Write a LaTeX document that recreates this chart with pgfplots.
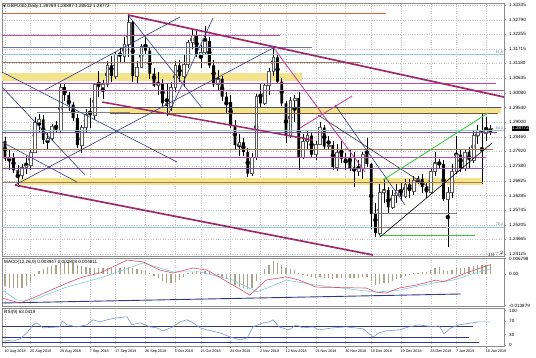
\documentclass[border=0pt]{standalone}
\usepackage{pgfplots}
\pgfplotsset{compat=1.18}
\usepackage{pgfplotstable}
\usepackage{fontspec}
\setmainfont{Liberation Sans}
\newfontfamily\dejavu{DejaVu Sans}

\definecolor{gridc}{HTML}{C4C4C4}
\definecolor{framec}{HTML}{8C8C8C}
\definecolor{mag}{HTML}{A0286C}
\definecolor{pinkl}{HTML}{C648A6}
\definecolor{navy}{HTML}{2E3A82}
\definecolor{slate}{HTML}{6C6EAE}
\definecolor{tealf}{HTML}{8FC9CC}
\definecolor{brownl}{HTML}{A8785E}
\definecolor{orangel}{HTML}{E4643A}
\definecolor{band}{HTML}{F3E48C}
\definecolor{greenl}{HTML}{3CC83C}
\definecolor{bullc}{HTML}{5A5A5A}
\definecolor{histc}{HTML}{ABA28A}
\definecolor{macdred}{HTML}{D85068}
\definecolor{macdcyan}{HTML}{7FCCDA}
\definecolor{rsic}{HTML}{7A9AD0}
\definecolor{purplel}{HTML}{8A4AA8}
\definecolor{darkslate}{HTML}{505070}

\pgfplotstableread{
i o h l c
0 1.2830 1.2845 1.2755 1.2765
1 1.2765 1.2800 1.2724 1.2770
2 1.2770 1.2785 1.2712 1.2722
3 1.2722 1.2740 1.2662 1.2705
4 1.2705 1.2745 1.2690 1.2735
5 1.2735 1.2775 1.2710 1.2740
6 1.2740 1.2800 1.2725 1.2790
7 1.2790 1.2918 1.2785 1.2900
8 1.2900 1.2930 1.2860 1.2910
9 1.2910 1.2925 1.2820 1.2835
10 1.2835 1.2860 1.2800 1.2840
11 1.2840 1.2895 1.2830 1.2885
12 1.2885 1.2905 1.2860 1.2870
13 1.2870 1.3043 1.2860 1.3030
14 1.3030 1.3045 1.2980 1.3000
15 1.3000 1.3010 1.2940 1.2965
16 1.2965 1.2975 1.2905 1.2915
17 1.2915 1.2930 1.2805 1.2815
18 1.2815 1.2890 1.2785 1.2880
19 1.2880 1.2950 1.2860 1.2930
20 1.2930 1.2990 1.2880 1.2925
21 1.2925 1.3045 1.2910 1.3040
22 1.3040 1.3090 1.2995 1.3030
23 1.3030 1.3055 1.2985 1.3040
24 1.3040 1.3125 1.3030 1.3110
25 1.3110 1.3145 1.3050 1.3070
26 1.3070 1.3160 1.3060 1.3150
27 1.3150 1.3180 1.3120 1.3145
28 1.3145 1.3215 1.3120 1.3190
29 1.3190 1.3298 1.3140 1.3270
30 1.3270 1.3275 1.3050 1.3070
31 1.3070 1.3125 1.3045 1.3105
32 1.3105 1.3190 1.3100 1.3180
33 1.3180 1.3215 1.3150 1.3165
34 1.3165 1.3175 1.3060 1.3080
35 1.3080 1.3100 1.3030 1.3035
36 1.3035 1.3085 1.3000 1.3045
37 1.3045 1.3060 1.2960 1.2970
38 1.2970 1.3040 1.2922 1.2960
39 1.2960 1.3050 1.2940 1.3030
40 1.3030 1.3125 1.3010 1.3110
41 1.3110 1.3130 1.3050 1.3070
42 1.3070 1.3150 1.3030 1.3115
43 1.3115 1.3205 1.3100 1.3195
44 1.3195 1.3240 1.3170 1.3220
45 1.3220 1.3240 1.3140 1.3150
46 1.3150 1.3185 1.3100 1.3160
47 1.3160 1.3257 1.3150 1.3200
48 1.3200 1.3215 1.3100 1.3110
49 1.3110 1.3130 1.3030 1.3040
50 1.3040 1.3095 1.3020 1.3060
51 1.3060 1.3070 1.2980 1.2995
52 1.2995 1.3010 1.2930 1.2975
53 1.2975 1.3000 1.2880 1.2890
54 1.2890 1.2910 1.2800 1.2815
55 1.2815 1.2855 1.2775 1.2825
56 1.2825 1.2840 1.2775 1.2790
57 1.2790 1.2805 1.2696 1.2710
58 1.2710 1.2785 1.2700 1.2770
59 1.2770 1.3005 1.2760 1.2995
60 1.2995 1.3040 1.2955 1.2970
61 1.2970 1.3045 1.2965 1.3035
62 1.3035 1.3100 1.3000 1.3090
63 1.3090 1.3175 1.3070 1.3140
64 1.3140 1.3150 1.3040 1.3050
65 1.3050 1.3065 1.2960 1.2970
66 1.2970 1.2980 1.2825 1.2850
67 1.2850 1.2995 1.2840 1.2980
68 1.2980 1.3000 1.2900 1.2990
69 1.2990 1.3010 1.2723 1.2770
70 1.2770 1.2855 1.2765 1.2830
71 1.2830 1.2870 1.2800 1.2850
72 1.2850 1.2865 1.2770 1.2780
73 1.2780 1.2830 1.2760 1.2820
74 1.2820 1.2900 1.2815 1.2880
75 1.2880 1.2890 1.2800 1.2810
76 1.2810 1.2850 1.2800 1.2815
77 1.2815 1.2830 1.2725 1.2735
78 1.2735 1.2820 1.2720 1.2790
79 1.2790 1.2830 1.2750 1.2765
80 1.2765 1.2785 1.2725 1.2755
81 1.2755 1.2800 1.2720 1.2730
82 1.2730 1.2790 1.2660 1.2720
83 1.2720 1.2760 1.2700 1.2730
84 1.2730 1.2790 1.2690 1.2780
85 1.2780 1.2840 1.2735 1.2745
86 1.2745 1.2750 1.2505 1.2560
87 1.2560 1.2600 1.2477 1.2490
88 1.2490 1.2670 1.2480 1.2640
89 1.2640 1.2690 1.2600 1.2650
90 1.2650 1.2660 1.2560 1.2585
91 1.2585 1.2650 1.2580 1.2630
92 1.2630 1.2670 1.2600 1.2650
93 1.2650 1.2680 1.2610 1.2625
94 1.2625 1.2690 1.2620 1.2670
95 1.2670 1.2690 1.2620 1.2645
96 1.2645 1.2700 1.2630 1.2685
97 1.2685 1.2700 1.2670 1.2690
98 1.2690 1.2710 1.2640 1.2660
99 1.2660 1.2680 1.2620 1.2640
100 1.2640 1.2730 1.2635 1.2720
101 1.2720 1.2790 1.2700 1.2750
102 1.2750 1.2765 1.2730 1.2745
103 1.2745 1.2760 1.2610 1.2615
104 1.2615 1.2660 1.2438 1.2640
105 1.2640 1.2745 1.2620 1.2720
106 1.2720 1.2850 1.2710 1.2780
107 1.2780 1.2800 1.2715 1.2730
108 1.2730 1.2800 1.2720 1.2790
109 1.2790 1.2810 1.2730 1.2760
110 1.2760 1.2870 1.2750 1.2850
111 1.2850 1.2890 1.2820 1.2870
112 1.2870 1.2930 1.2670 1.2860
113 1.2860 1.2920 1.2830 1.2869
114 1.28769 1.28897 1.28512 1.28772
}\candles

\pgfplotstableread{
i v
0 -0.0055
1 -0.0060
2 -0.0063
3 -0.0063
4 -0.0060
5 -0.0055
6 -0.0040
7 -0.0010
8 0.0012
9 0.0022
10 0.0030
11 0.0036
12 0.0040
13 0.0048
14 0.0052
15 0.0052
16 0.0048
17 0.0040
18 0.0035
19 0.0030
20 0.0028
21 0.0026
22 0.0025
23 0.0024
24 0.0026
25 0.0026
26 0.0028
27 0.0028
28 0.0030
29 0.0032
30 0.0026
31 0.0022
32 0.0018
33 0.0014
34 0.0006
35 -0.0008
36 -0.0018
37 -0.0030
38 -0.0040
39 -0.0042
40 -0.0035
41 -0.0025
42 -0.0015
43 0.0002
44 0.0010
45 0.0012
46 0.0010
47 0.0012
48 0.0008
49 0.0002
50 -0.0004
51 -0.0012
52 -0.0024
53 -0.0036
54 -0.0050
55 -0.0058
56 -0.0064
57 -0.0068
58 -0.0060
59 -0.0030
60 -0.0005
61 0.0020
62 0.0040
63 0.0055
64 0.0050
65 0.0038
66 0.0025
67 0.0022
68 0.0018
69 0.0004
70 -0.0004
71 -0.0008
72 -0.0014
73 -0.0016
74 -0.0012
75 -0.0016
76 -0.0018
77 -0.0022
78 -0.0020
79 -0.0020
80 -0.0020
81 -0.0020
82 -0.0020
83 -0.0018
84 -0.0012
85 -0.0012
86 -0.0030
87 -0.0048
88 -0.0045
89 -0.0040
90 -0.0038
91 -0.0030
92 -0.0022
93 -0.0016
94 -0.0008
95 -0.0004
96 0.0002
97 0.0006
98 0.0008
99 0.0010
100 0.0018
101 0.0026
102 0.0030
103 0.0018
104 0.0012
105 0.0016
106 0.0024
107 0.0024
108 0.0028
109 0.0030
110 0.0034
111 0.0038
112 0.0040
113 0.0040
114 0.0042
}\macdhist

\newcommand{\lbl}{\fontsize{4.6}{5}\selectfont}
\newcommand{\dlbl}{\fontsize{3.7}{4}\selectfont}

\pgfplotsset{
  panel/.style={scale only axis, width=502pt, xmin=-0.7, xmax=117.2,
    enlargelimits=false, anchor=north west,
    axis line style={draw=framec, line width=0.9pt},
    tick style={draw=framec, line width=0.5pt},
    major tick length=2pt, tick align=outside,
    xtick={0,6,13,20,26,33,40,46,53,60,66,73,80,86,93,100,106,113},
    grid style={draw=gridc, dotted, line width=0.45pt},
    xmajorgrids,
    ticklabel style={font=\lbl, text=black},
    yticklabel pos=right, ytick pos=right,
    yticklabel style={anchor=west, inner sep=0pt, xshift=3pt}},
  overlay/.style={scale only axis, width=502pt, xmin=-0.7, xmax=117.2,
    enlargelimits=false, anchor=north west, hide axis},
  pricey/.style={height=253pt, ymin=1.24051, ymax=1.33409}
}

\begin{document}
\begin{tikzpicture}
\fill[white] (0,0) rectangle (536pt,-358pt);

% ---------- main panel: grid, bands, wicks ----------
\begin{axis}[panel, pricey, at={(2pt,-3pt)},
  xticklabels={}, xtick style={draw=none},
  ymajorgrids,
  ytick={1.33335,1.32790,1.32255,1.31715,1.31180,1.30635,1.30080,1.29540,1.29000,1.28460,1.27920,1.27380,1.26825,1.26285,1.25745,1.25205,1.24665,1.24125},
  yticklabels={1.33335,1.32790,1.32255,1.31715,1.31180,1.30635,1.30080,1.29540,1.29000,1.28460,1.27920,1.27380,1.26825,1.26285,1.25745,1.25205,1.24665,1.24125},
  extra y ticks={1.28772}, extra y tick labels={1.28772},
  extra y tick style={grid=none, yticklabel style={fill=black, text=white, inner sep=0.6pt, xshift=2.4pt}}
]
\addplot[fill=band, draw=none, forget plot] coordinates {(-0.7,1.30542) (69.77,1.30542) (69.77,1.30820) (-0.7,1.30820)};
\addplot[fill=band, draw=none, forget plot] coordinates {(24.67,1.29340) (116.51,1.29340) (116.51,1.29544) (24.67,1.29544)};
\addplot[fill=band, draw=none, forget plot] coordinates {(3.52,1.26659) (112.29,1.26659) (112.29,1.26918) (3.52,1.26918)};
\addplot[black, only marks, mark=none, forget plot,
  error bars/.cd, y dir=both, y explicit, error mark=none,
  error bar style={draw=black, line width=0.5pt}]
  table[x=i, y expr={(\thisrow{h}+\thisrow{l})/2}, y error expr={(\thisrow{h}-\thisrow{l})/2}] {\candles};
\end{axis}

% ---------- candle bodies ----------
\begin{axis}[overlay, pricey, at={(2pt,-3pt)}, ybar stacked, bar width=2.8pt]
\addplot[draw=none, fill=none] table[x=i, y expr={min(\thisrow{o},\thisrow{c})}] {\candles};
\addplot[draw=bullc, fill=white, line width=0.45pt] table[x=i, y expr={max(\thisrow{c}-\thisrow{o},0)}] {\candles};
\addplot[draw=none, fill=black] table[x=i, y expr={max(\thisrow{o}-\thisrow{c},0)}] {\candles};
\end{axis}

% ---------- objects: horizontal levels and trend lines ----------
\begin{axis}[overlay, pricey, at={(2pt,-3pt)}]
\addplot[orangel, line width=0.8pt] coordinates {(-0.7,1.33021) (89.5,1.33021)};
\addplot[pinkl, line width=0.9pt] coordinates {(-0.7,1.32207) (64.6,1.32207)};
\addplot[slate, line width=0.8pt] coordinates {(-0.7,1.31763) (72.1,1.31763)};
\addplot[tealf, line width=0.6pt] coordinates {(-0.7,1.31523) (117.2,1.31523)};
\addplot[brownl, line width=0.8pt] coordinates {(-0.7,1.31216) (83.4,1.31216)};
\addplot[pinkl, line width=0.9pt] coordinates {(-0.7,1.30450) (115.3,1.30450)};
\addplot[pinkl, line width=0.9pt] coordinates {(-0.7,1.30172) (117.2,1.30172)};
\addplot[darkslate, line width=0.8pt] coordinates {(-0.7,1.29562) (116.5,1.29562)};
\addplot[brownl!70!black, line width=0.6pt] coordinates {(24.67,1.29340) (115.7,1.29340)};
\addplot[gray, line width=0.5pt] coordinates {(7.5,1.29377) (29.4,1.29377)};
\addplot[tealf, line width=0.6pt] coordinates {(-0.7,1.28711) (117.2,1.28711)};
\addplot[purplel, line width=0.8pt] coordinates {(-0.7,1.28638) (115.6,1.28638)};
\addplot[brownl, line width=0.8pt] coordinates {(-0.7,1.27990) (114.6,1.27990)};
\addplot[pinkl, line width=0.9pt] coordinates {(-0.7,1.27713) (113.0,1.27713)};
\addplot[purplel, line width=0.9pt] coordinates {(-0.7,1.27287) (112.5,1.27287)};
\addplot[brownl, line width=0.8pt] coordinates {(-0.7,1.26788) (112.3,1.26788)};
\addplot[gray, line width=0.8pt] coordinates {(86.4,1.25641) (106.2,1.25641)};
\addplot[tealf, line width=0.6pt] coordinates {(-0.7,1.25124) (117.2,1.25124)};
\addplot[gray, line width=0.7pt] coordinates {(86.7,1.25124) (103.6,1.25124)};
\addplot[greenl, line width=0.8pt] coordinates {(87.9,1.24828) (110.4,1.24828)};
% trend lines
\addplot[mag, line width=1.7pt] coordinates {(28.89,1.32965) (117.2,1.29932)};
\addplot[mag, line width=1.5pt] coordinates {(22.79,1.29747) (72.35,1.28342)};
\addplot[mag, line width=1.7pt] coordinates {(2.35,1.26677) (86.45,1.24088)};
\addplot[pinkl, line width=0.9pt] coordinates {(62.96,1.31782) (84.57,1.27158)};
\addplot[pinkl, line width=0.9pt] coordinates {(69.30,1.28785) (81.51,1.29969)};
\addplot[navy, line width=0.6pt] coordinates {(-0.7,1.30857) (40.40,1.27528)};
\addplot[navy, line width=0.6pt] coordinates {(-0.7,1.30302) (18.79,1.27047)};
\addplot[navy, line width=0.6pt] coordinates {(-0.7,1.28268) (16.91,1.26788)};
\addplot[navy, line width=0.6pt] coordinates {(2.35,1.26677) (63.43,1.31782)};
\addplot[navy, line width=0.6pt] coordinates {(9.40,1.30191) (41.11,1.32891)};
\addplot[navy, line width=0.6pt] coordinates {(38.29,1.29266) (48.86,1.32854)};
\addplot[navy, line width=0.6pt] coordinates {(28.89,1.32965) (46.28,1.29525)};
\addplot[black!80, line width=0.6pt] coordinates {(73.53,1.29266) (99.84,1.26566)};
\addplot[navy, line width=0.6pt] coordinates {(77.5,1.29636) (93.96,1.25938)};
\addplot[greenl, line width=0.9pt] coordinates {(88.79,1.26862) (113.46,1.29340)};
\addplot[black, line width=0.6pt] coordinates {(88.09,1.24754) (114.40,1.28231)};
\end{axis}

% ---------- MACD panel ----------
\begin{axis}[panel, at={(2pt,-258pt)}, height=48pt, ymin=-0.0141, ymax=0.0070,
  xticklabels={}, xtick style={draw=none},
  ytick={-0.013879,0,0.006798}, yticklabels={-0.013879,0.00,0.006798}]
\addplot[ycomb, histc, line width=1.3pt, forget plot] table[x=i, y=v] {\macdhist};
\addplot[navy, line width=0.9pt] coordinates {(-0.7,-0.01278) (107.1,-0.00882)};
\addplot[macdcyan, line width=0.6pt] coordinates {(-0.7,-0.0071) (2.82,-0.0115) (6.58,-0.0115) (14.56,-0.0057) (22.32,-0.0018) (32.42,0.0048) (39.46,0.0009) (45.81,0.0009) (53.56,-0.0027) (59.20,-0.0079) (62.25,-0.0057) (66.01,-0.0027) (73.06,-0.0049) (87.15,-0.0080) (92.55,-0.0071) (100.54,-0.0040) (105.24,-0.0027) (112.99,0.0018) (114,0.0022)};
\addplot[macdred, line width=0.6pt] coordinates {(-0.7,-0.0106) (3.52,-0.0128) (6.58,-0.0106) (14.56,-0.0040) (18.32,-0.0013) (22.32,0.0004) (28.66,0.0061) (32.42,0.0053) (36.41,0.0017) (39.46,0.0004) (44.16,0.0026) (47.45,0.0017) (53.56,-0.0049) (57.55,-0.0093) (61.31,-0.0027) (66.01,-0.0013) (69.06,-0.0027) (73.06,-0.0058) (84.80,-0.0062) (87.15,-0.0080) (89.50,-0.0084) (92.55,-0.0062) (96.55,-0.0049) (101.25,-0.0027) (102.89,-0.0035) (108.29,0.0004) (114,0.0041)};
\end{axis}

% ---------- RSI panel ----------
\begin{axis}[panel, at={(2pt,-308pt)}, height=38pt, ymin=-3, ymax=108,
  ytick={0,30,70,100}, yticklabels={0,30,70,100},
  xtick pos=bottom,
  xticklabels={10 Aug 2018,20 Aug 2018,29 Aug 2018,7 Sep 2018,17 Sep 2018,26 Sep 2018,5 Oct 2018,15 Oct 2018,24 Oct 2018,2 Nov 2018,12 Nov 2018,21 Nov 2018,30 Nov 2018,10 Dec 2018,19 Dec 2018,28 Dec 2018,7 Jan 2019,16 Jan 2019},
  xticklabel style={font=\dlbl, anchor=north west, inner sep=0pt, xshift=-0.5pt, yshift=-1.8pt}]
\addplot[navy, line width=0.9pt] coordinates {(-0.7,55.4) (110.0,55.4)};
\addplot[navy, line width=0.9pt] coordinates {(-0.7,23.3) (109.0,23.3)};
\addplot[navy, line width=0.9pt] coordinates {(-0.7,7.2) (111.3,7.2)};
\addplot[rsic, line width=0.6pt] coordinates {(-0.7,14.7) (1.88,11.8) (3.52,17.6) (5.17,35.3) (6.58,58.8) (7.52,64.7) (8.93,50.0) (12.92,52.9) (13.39,70.6) (14.56,58.8) (16.91,52.9) (19.26,58.8) (20.67,73.5) (22.32,67.6) (23.96,73.5) (26.31,79.4) (28.66,82.4) (29.83,58.8) (31.71,64.7) (34.06,52.9) (35.71,50.0) (37.12,41.2) (39.46,52.9) (41.11,67.6) (42.75,73.5) (44.16,64.7) (45.81,50.0) (47.45,44.1) (50.51,35.3) (52.85,23.5) (55.20,14.7) (56.85,20.6) (58.26,52.9) (60.61,64.7) (62.25,67.6) (62.96,73.5) (64.36,52.9) (66.71,44.1) (68.36,58.8) (70.00,50.0) (72.35,52.9) (73.76,44.1) (77.05,50.0) (80.10,52.9) (84.10,47.1) (86.45,23.5) (87.86,35.3) (89.50,41.2) (92.55,44.1) (94.90,52.9) (97.25,58.8) (100.54,52.9) (101.95,55.9) (103.12,32.4) (104.77,50.0) (106.65,58.8) (109.94,64.7) (111.35,67.6) (114,67.6)};
\end{axis}

% ---------- texts ----------
\node[anchor=west, inner sep=0pt, font=\lbl] at (3pt,-6.5pt) {{\dejavu\fontsize{3.6}{4}\selectfont ▼} GBPUSD,Daily  1.28769 1.28897 1.28512 1.28772};
\node[anchor=west, inner sep=0pt, font=\lbl] at (4pt,-262.5pt) {MACD(12,26,9) 0.003947 0.002808 0.004811};
\node[anchor=west, inner sep=0pt, font=\lbl] at (4pt,-312pt) {RSI(9) 63.0419};
\node[anchor=east, inner sep=0pt, font=\fontsize{3.6}{4}\selectfont, text=tealf!60!black] at (503pt,-52pt) {61.8};
\node[anchor=east, inner sep=0pt, font=\fontsize{3.6}{4}\selectfont, text=tealf!60!black] at (503pt,-128.5pt) {50.0};
\node[anchor=east, inner sep=0pt, font=\fontsize{3.6}{4}\selectfont, text=tealf!60!black] at (503pt,-224.5pt) {76.4};
\end{tikzpicture}
\end{document}
